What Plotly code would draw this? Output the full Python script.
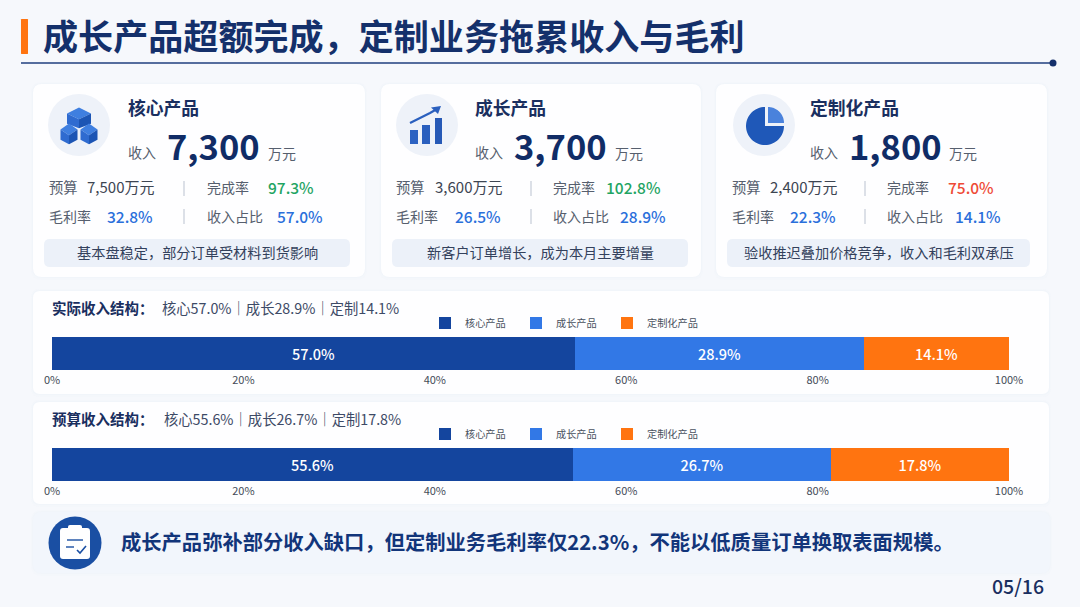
import math
import plotly.graph_objects as go

# ---------- data ----------
PRODUCTS = ["核心产品", "成长产品", "定制化产品"]
ACTUAL_SEGMENTS = [54.6, 30.3, 15.1]     # segment widths as drawn in the picture
ACTUAL_LABELS = ["57.0%", "28.9%", "14.1%"]
BUDGET_SEGMENTS = [54.4, 27.0, 18.6]     # segment widths as drawn in the picture
BUDGET_LABELS = ["55.6%", "26.7%", "17.8%"]
TICK_VALUES = [0, 20, 40, 60, 80, 100]
TICK_LABELS = ["0%", "20%", "40%", "60%", "80%", "100%"]

REVENUE = ["7,300", "3,700", "1,800"]
BUDGET = ["7,500万元", "3,600万元", "2,400万元"]
COMPLETION = ["97.3%", "102.8%", "75.0%"]
MARGIN = ["32.8%", "26.5%", "22.3%"]
SHARE = ["57.0%", "28.9%", "14.1%"]
NOTES = ["基本盘稳定，部分订单受材料到货影响", "新客户订单增长，成为本月主要增量", "验收推迟叠加价格竞争，收入和毛利双承压"]
TITLE = "成长产品超额完成，定制业务拖累收入与毛利"
CALLOUT = "成长产品弥补部分收入缺口，但定制业务毛利率仅22.3%，不能以低质量订单换取表面规模。"

# ---------- style ----------
W, H = 1080, 607
FONT = "Noto Sans CJK SC"
NAVY, INK, GREY = "#14306b", "#1a2f60", "#565f6e"
BLUE, GREEN, RED = "#2a6fdb", "#1fa463", "#ee4a36"
COLORS = ["#14459e", "#3278e6", "#ff7410"]
COMP_COLORS = [GREEN, GREEN, RED]

shapes, notes = [], []
def X(p): return p / W
def Y(p): return 1 - p / H

def path(points, close=True):
    d = "M" + " L".join(f"{X(a):.5f},{Y(b):.5f}" for a, b in points)
    return d + (" Z" if close else "")

def poly(points, fill):
    shapes.append(dict(type="path", xref="paper", yref="paper", layer="below", path=path(points),
                       fillcolor=fill, line=dict(width=0)))

def stroke(points, color, width):
    shapes.append(dict(type="path", xref="paper", yref="paper", layer="below", path=path(points, False),
                       line=dict(color=color, width=width)))

def rrect(x0, y0, x1, y1, r, fill):
    d = (f"M{X(x0+r):.5f},{Y(y0):.5f} L{X(x1-r):.5f},{Y(y0):.5f} Q{X(x1):.5f},{Y(y0):.5f} {X(x1):.5f},{Y(y0+r):.5f} "
         f"L{X(x1):.5f},{Y(y1-r):.5f} Q{X(x1):.5f},{Y(y1):.5f} {X(x1-r):.5f},{Y(y1):.5f} "
         f"L{X(x0+r):.5f},{Y(y1):.5f} Q{X(x0):.5f},{Y(y1):.5f} {X(x0):.5f},{Y(y1-r):.5f} "
         f"L{X(x0):.5f},{Y(y0+r):.5f} Q{X(x0):.5f},{Y(y0):.5f} {X(x0+r):.5f},{Y(y0):.5f} Z")
    shapes.append(dict(type="path", xref="paper", yref="paper", layer="below", path=d,
                       fillcolor=fill, line=dict(width=0)))

def card(x0, y0, x1, y1, r=9, fill="#fefeff"):
    rrect(x0 - 2, y0 - 2, x1 + 2, y1 + 3, r + 2, "rgba(232,238,248,0.14)")
    rrect(x0 - 1, y0 - 1, x1 + 1, y1 + 1, r + 1, "rgba(232,238,248,0.16)")
    rrect(x0, y0, x1, y1, r, fill)

def circle(cx, cy, r, fill):
    shapes.append(dict(type="circle", xref="paper", yref="paper", layer="below",
                       x0=X(cx - r), x1=X(cx + r), y0=Y(cy + r), y1=Y(cy - r),
                       fillcolor=fill, line=dict(width=0)))

def text(x, y, s, size, color, weight=400, anchor="left"):
    # CJK font metrics sit low in the line box: lift proportional to size
    notes.append(dict(xref="paper", yref="paper", x=X(x), y=Y(y - 0.08 * size), text=s, showarrow=False,
                      xanchor=anchor, yanchor="middle", borderpad=0, borderwidth=0,
                      font=dict(family=FONT, size=size, color=color, weight=weight)))

# ---------- header ----------
rrect(21, 19, 28, 54, 0.5, "#ff7410")
text(43, 37, TITLE, 35.1, NAVY, 700)
stroke([(21, 63), (1053, 63)], "#1f3f7f", 1.4)
circle(1053, 63, 3.5, "#14306b")

# ---------- cards ----------
LAYOUT = [
    dict(x0=33, x1=365, cx=79, name=128, num=167, unit=268, lab=49, bud=87, div=184, c=207, cv=268, mv=107, sv=277, p0=44, p1=350),
    dict(x0=381, x1=701, cx=427, name=475, num=514, unit=615, lab=396, bud=435, div=531, c=553, cv=606, mv=455, sv=620, p0=392, p1=688),
    dict(x0=716, x1=1047, cx=764, name=810, num=849, unit=949, lab=732, bud=770, div=865, c=887, cv=948, mv=790, sv=955, p0=727, p1=1030),
]
for i, g in enumerate(LAYOUT):
    card(g["x0"], 84, g["x1"], 277)
    circle(g["cx"], 125, 31, "#eef2f9")
    text(g["name"], 108, PRODUCTS[i], 17.8, INK, 700)
    text(g["name"], 153, "收入", 14, GREY)
    text(g["num"], 148, REVENUE[i], 34.5, "#102c66", 700)
    text(g["unit"], 154, "万元", 14, GREY)
    text(g["lab"], 188, "预算", 14.3, GREY)
    text(g["bud"], 188, BUDGET[i], 15, "#3d4552")
    text(g["c"], 188, "完成率", 14, GREY)
    text(g["cv"], 188, COMPLETION[i], 15.5, COMP_COLORS[i], 500)
    text(g["lab"], 217, "毛利率", 14, GREY)
    text(g["mv"], 217, MARGIN[i], 15.5, BLUE, 500)
    text(g["c"], 217, "收入占比", 14, GREY)
    text(g["sv"], 217, SHARE[i], 15.5, BLUE, 500)
    stroke([(g["div"], 181), (g["div"], 196)], "#c5ccd8", 1.2)
    stroke([(g["div"], 209), (g["div"], 224)], "#c5ccd8", 1.2)
    rrect(g["p0"], 239, g["p1"], 267, 6, "#ecf1f9")
    text((g["p0"] + g["p1"]) / 2, 253, NOTES[i], 14.2, "#33415c", 400, "center")

# cube icon
def cube(cx, top, w, h, t, l, r):
    m = h * 0.32
    poly([(cx, top), (cx + w, top + m), (cx, top + 2 * m), (cx - w, top + m)], t)
    poly([(cx - w, top + m), (cx, top + 2 * m), (cx, top + h + m * 0.4), (cx - w, top + h - m * 0.4)], l)
    poly([(cx + w, top + m), (cx, top + 2 * m), (cx, top + h + m * 0.4), (cx + w, top + h - m * 0.4)], r)
cube(79, 107.5, 12, 18.5, "#3f7fe0", "#2f6bd0", "#1c55b4")
cube(69, 123.5, 8.5, 18.5, "#3f7fe0", "#2f6bd0", "#1c55b4")
cube(89, 123.5, 8.5, 18.5, "#3f7fe0", "#2f6bd0", "#1c55b4")

# growth icon
for a, b, top, col in [(410, 418, 130, "#2c62c2"), (422, 430, 125, "#2a5fbe"), (435, 442, 118, "#2659b6")]:
    poly([(a, top), (b, top), (b, 144), (a, 144)], col)
stroke([(410, 123), (420, 118), (430, 113), (437, 109)], "#2a5fbe", 2.2)
poly([(441, 106), (431, 107.5), (438, 114)], "#2a5fbe")

# pie icon
def arc(cx, cy, r, a0, a1, n=48):
    return [(cx + r * math.cos(math.radians(a0 + (a1 - a0) * k / n)),
             cy + r * math.sin(math.radians(a0 + (a1 - a0) * k / n))) for k in range(n + 1)]
poly([(765, 126)] + arc(765, 126, 19, 0, 270), "#1f58b8")
poly([(768, 123)] + arc(768, 123, 16, -90, 0), "#4a82dc")

# ---------- structure panels ----------
card(33, 291, 1049, 394, 7)
card(33, 402, 1049, 504, 7)
text(52, 309, "实际收入结构：", 14.5, INK, 700)
text(162, 309, "核心57.0%｜成长28.9%｜定制14.1%", 14.3, "#3d4a66")
text(52, 420, "预算收入结构：", 14.5, INK, 700)
text(164, 420, "核心55.6%｜成长26.7%｜定制17.8%", 14.3, "#3d4a66")

# ---------- callout ----------
card(33, 512, 1050, 573, 9, "#f2f6fc")
circle(75, 543, 26.5, "#1a4fa3")
rrect(60, 528, 90, 559, 3, "#ffffff")
rrect(68, 525, 82, 532, 2, "#ffffff")
stroke([(67, 540), (83, 540)], "#1a4fa3", 1.4)
stroke([(66, 547), (74, 547)], "#1a4fa3", 1.4)
stroke([(77, 550), (80, 553), (86, 546)], "#1a4fa3", 1.6)
text(121, 543, CALLOUT, 20.3, "#12357a", 700)
text(1044, 587, "05/16", 19.5, INK, 500, "right")

# ---------- charts ----------
fig = go.Figure()
def add_bars(segments, labels, row, legend):
    second = legend != "legend"
    for name, v, lab, col in zip(PRODUCTS, segments, labels, COLORS):
        fig.add_trace(go.Bar(
            x=[v], y=[row], name=name, orientation="h", marker=dict(color=col, line=dict(width=0)),
            text=[lab], textposition="inside", insidetextanchor="middle", textangle=0,
            textfont=dict(family=FONT, size=14.5, color="#ffffff", weight=500),
            xaxis="x2" if second else "x", yaxis="y2" if second else "y",
            legend=legend, showlegend=True, hoverinfo="skip"))
add_bars(ACTUAL_SEGMENTS, ACTUAL_LABELS, "实际", "legend")
add_bars(BUDGET_SEGMENTS, BUDGET_LABELS, "预算", "legend2")

def xaxis(anchor):
    return dict(domain=[X(52), X(1009)], range=[0, 100], tickmode="array", tickvals=TICK_VALUES,
                ticktext=TICK_LABELS, showgrid=False, zeroline=False, showline=False, ticks="", anchor=anchor,
                ticklabelstandoff=2, tickfont=dict(family=FONT, size=11, color="#444b57"))
def yaxis(top, bottom, anchor):
    return dict(domain=[Y(bottom), Y(top)], range=[-0.5, 0.5], showgrid=False, zeroline=False,
                showline=False, showticklabels=False, ticks="", anchor=anchor, type="category")
def legend_at(y):
    return dict(orientation="h", x=X(425), xanchor="left", y=Y(y), yanchor="middle", traceorder="normal",
                bgcolor="rgba(0,0,0,0)", entrywidth=46, entrywidthmode="pixels", itemclick=False,
                font=dict(family=FONT, size=10.2, color="#4a5260"))

fig.update_layout(
    width=W, height=H, autosize=False, margin=dict(l=0, r=0, t=0, b=0, pad=0, autoexpand=False),
    paper_bgcolor="#f6f8fc", plot_bgcolor="rgba(0,0,0,0)", barmode="stack", bargap=0,
    xaxis=xaxis("y"), yaxis=yaxis(337, 370, "x"), xaxis2=xaxis("y2"), yaxis2=yaxis(448, 481, "x2"),
    legend=legend_at(323), legend2=legend_at(434),
    shapes=shapes, annotations=notes, font=dict(family=FONT))

fig.write_html("out.html", config=dict(displayModeBar=False),
               post_script="document.body.style.margin='0';")
